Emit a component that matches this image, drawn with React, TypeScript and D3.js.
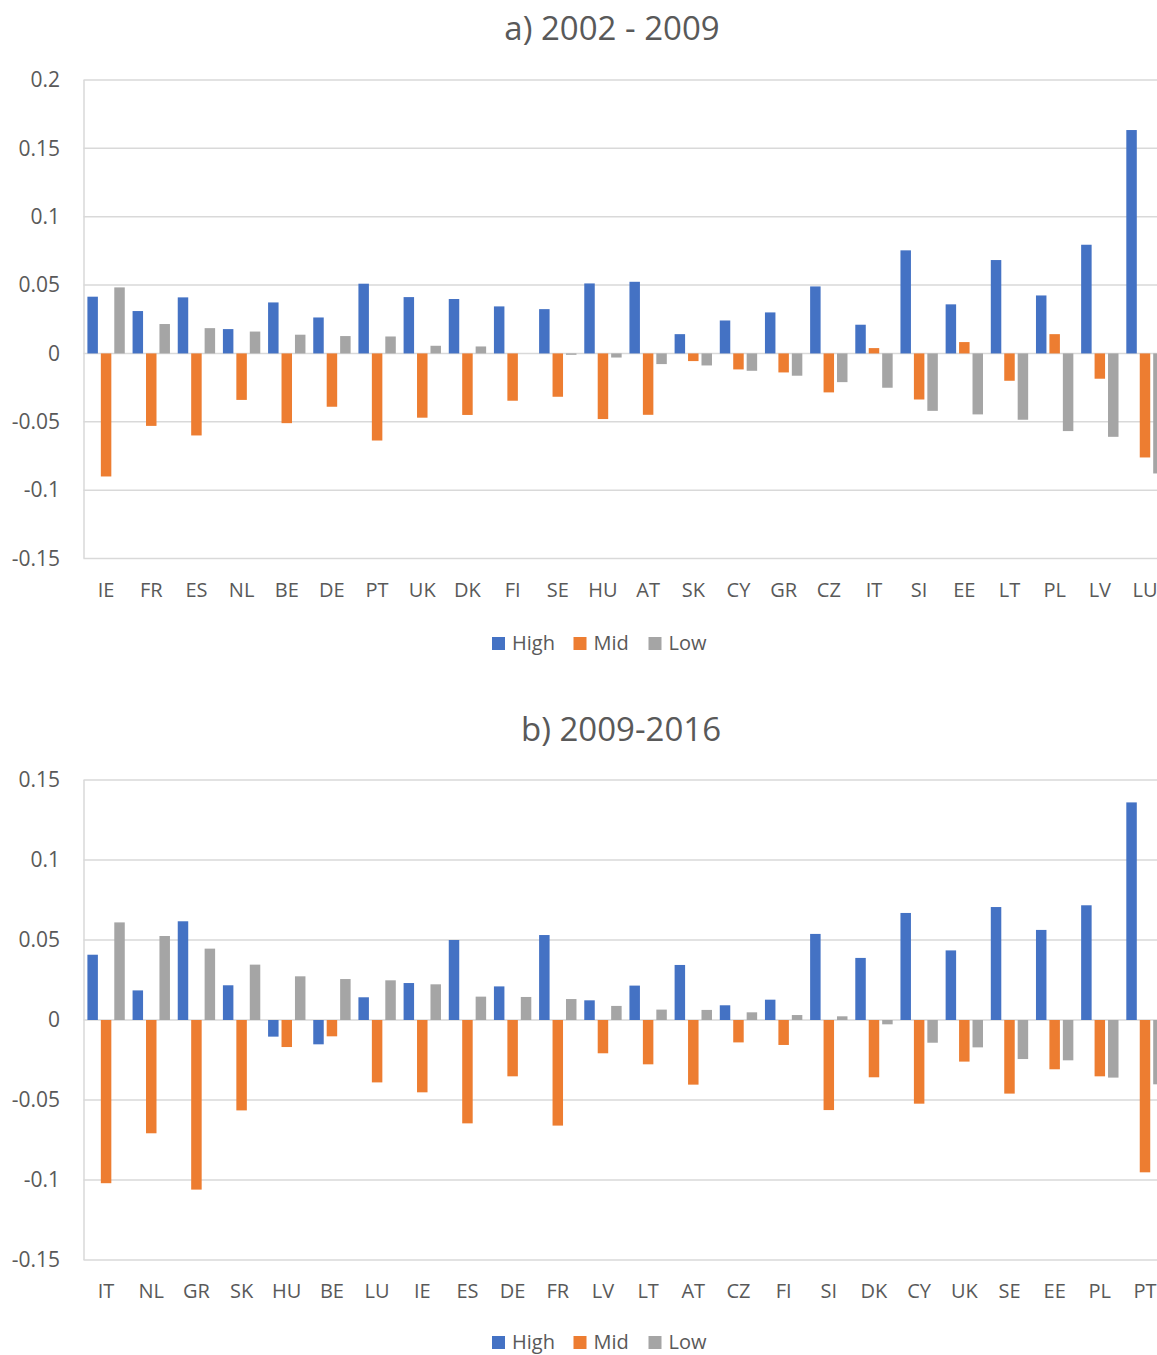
import React, { useEffect, useRef } from 'react';
import * as d3 from 'd3';

// series order
const series = ['High', 'Mid', 'Low'];
const colors = ['#4472C4', '#ED7D31', '#A5A5A5'];

// a) 2002 - 2009
const catsA = ['IE', 'FR', 'ES', 'NL', 'BE', 'DE', 'PT', 'UK', 'DK', 'FI', 'SE', 'HU', 'AT', 'SK', 'CY', 'GR', 'CZ', 'IT', 'SI', 'EE', 'LT', 'PL', 'LV', 'LU'];
const highA = [0.0415, 0.031, 0.041, 0.0178, 0.0373, 0.0263, 0.051, 0.0412, 0.0398, 0.0344, 0.0324, 0.0512, 0.0524, 0.0141, 0.0241, 0.030, 0.049, 0.021, 0.0754, 0.0359, 0.0683, 0.0424, 0.0795, 0.1634];
const midA = [-0.090, -0.053, -0.060, -0.034, -0.051, -0.039, -0.0637, -0.047, -0.045, -0.0346, -0.0317, -0.048, -0.0449, -0.0056, -0.0117, -0.0139, -0.0285, 0.0039, -0.0337, 0.0083, -0.020, 0.0141, -0.0185, -0.0761];
const lowA = [0.0483, 0.0215, 0.0185, 0.016, 0.0137, 0.0127, 0.0124, 0.0056, 0.0051, 0, -0.001, -0.003, -0.0078, -0.0088, -0.0127, -0.0163, -0.021, -0.0251, -0.042, -0.0446, -0.0485, -0.0568, -0.061, -0.0878];
const ticksA = [0.2, 0.15, 0.1, 0.05, 0, -0.05, -0.1, -0.15];

// b) 2009-2016
const catsB = ['IT', 'NL', 'GR', 'SK', 'HU', 'BE', 'LU', 'IE', 'ES', 'DE', 'FR', 'LV', 'LT', 'AT', 'CZ', 'FI', 'SI', 'DK', 'CY', 'UK', 'SE', 'EE', 'PL', 'PT'];
const highB = [0.0408, 0.0185, 0.0617, 0.0217, -0.0104, -0.0152, 0.0142, 0.0231, 0.050, 0.021, 0.0531, 0.0123, 0.0215, 0.0344, 0.0092, 0.0127, 0.0538, 0.0388, 0.0669, 0.0435, 0.0706, 0.0563, 0.0717, 0.136];
const midB = [-0.102, -0.0708, -0.106, -0.0565, -0.0169, -0.0102, -0.039, -0.0452, -0.0646, -0.0352, -0.066, -0.0208, -0.0277, -0.0404, -0.014, -0.0156, -0.0563, -0.0358, -0.0523, -0.026, -0.046, -0.0308, -0.0352, -0.0952];
const lowB = [0.061, 0.0525, 0.0446, 0.0346, 0.0273, 0.0256, 0.0248, 0.0223, 0.0146, 0.0144, 0.0131, 0.0088, 0.0065, 0.0063, 0.0048, 0.0031, 0.0023, -0.0027, -0.0142, -0.0171, -0.0244, -0.0252, -0.036, -0.0402];
const ticksB = [0.15, 0.1, 0.05, 0, -0.05, -0.1, -0.15];

const W = 1157;
const H = 1355;
const FONT = '"Open Sans", "Noto Sans", sans-serif';
const TEXT = '#595959';
const GRID = '#D9D9D9';

interface Panel {
  title: string;
  titleX: number;
  titleY: number;
  cats: string[];
  values: number[][];
  ticks: number[];
  top: number;
  bottom: number;
  labelY: number;
  legendY: number;
}

const panels: Panel[] = [
  { title: 'a) 2002 - 2009', titleX: 612, titleY: 40, cats: catsA, values: [highA, midA, lowA], ticks: ticksA, top: 80, bottom: 558.5, labelY: 597, legendY: 650 },
  { title: 'b) 2009-2016', titleX: 621, titleY: 741, cats: catsB, values: [highB, midB, lowB], ticks: ticksB, top: 780, bottom: 1260, labelY: 1298, legendY: 1349 },
];

export default function App() {
  const svgRef = useRef<SVGSVGElement>(null);

  useEffect(() => {
    if (!svgRef.current) return;
    const svg = d3.select(svgRef.current);
    svg.selectAll('*').remove();

    const left = 83.5;
    const step = 45.17;

    panels.forEach(p => {
      const g = svg.append('g');
      const x0 = d3.scaleBand<string>().domain(p.cats).range([left, left + step * p.cats.length]).padding(0);
      const x1 = d3.scaleBand<string>().domain(series).range([3.9, step - 3.9]).paddingInner(0.22).paddingOuter(0);
      const y = d3.scaleLinear().domain([d3.min(p.ticks)!, d3.max(p.ticks)!]).range([p.bottom, p.top]);

      // title
      g.append('text')
        .attr('x', p.titleX)
        .attr('y', p.titleY)
        .attr('text-anchor', 'middle')
        .style('font-family', FONT)
        .style('font-size', '33px')
        .attr('fill', TEXT)
        .text(p.title);

      // gridlines
      g.selectAll('.grid')
        .data(p.ticks)
        .enter().append('line')
        .attr('x1', left)
        .attr('x2', W)
        .attr('y1', d => y(d))
        .attr('y2', d => y(d))
        .attr('stroke', GRID)
        .attr('stroke-width', 1.5);

      // left edge
      g.append('line')
        .attr('x1', left + 0.5)
        .attr('x2', left + 0.5)
        .attr('y1', p.top)
        .attr('y2', p.bottom)
        .attr('stroke', GRID)
        .attr('stroke-width', 1.5);

      // tick labels
      g.selectAll('.tick')
        .data(p.ticks)
        .enter().append('text')
        .attr('x', 60)
        .attr('y', d => y(d))
        .attr('dy', '0.35em')
        .attr('text-anchor', 'end')
        .style('font-family', FONT)
        .style('font-size', '21px')
        .attr('fill', TEXT)
        .text(d => String(d));

      // bars
      series.forEach((s, si) => {
        g.selectAll(`.bar-${si}`)
          .data(p.cats)
          .enter().append('rect')
          .attr('x', c => x0(c)! + x1(s)!)
          .attr('width', x1.bandwidth())
          .attr('y', (c, i) => y(Math.max(0, p.values[si][i])))
          .attr('height', (c, i) => Math.abs(y(p.values[si][i]) - y(0)))
          .attr('fill', colors[si]);
      });

      // category labels
      g.selectAll('.cat')
        .data(p.cats)
        .enter().append('text')
        .attr('x', c => x0(c)! + x0.bandwidth() / 2)
        .attr('y', p.labelY)
        .attr('text-anchor', 'middle')
        .style('font-family', FONT)
        .style('font-size', '20px')
        .attr('fill', TEXT)
        .text(c => c);

      // legend
      const legendX = [492, 573.5, 648.5];
      series.forEach((s, si) => {
        g.append('rect')
          .attr('x', legendX[si])
          .attr('y', p.legendY - 13)
          .attr('width', 13)
          .attr('height', 13)
          .attr('fill', colors[si]);
        g.append('text')
          .attr('x', legendX[si] + 20)
          .attr('y', p.legendY)
          .style('font-family', FONT)
          .style('font-size', '20px')
          .attr('fill', TEXT)
          .text(s);
      });
    });
  }, []);

  return (
    <svg
      ref={svgRef}
      width={W}
      height={H}
      style={{ position: 'absolute', left: 0, top: 0, background: '#fff' }}
    />
  );
}
